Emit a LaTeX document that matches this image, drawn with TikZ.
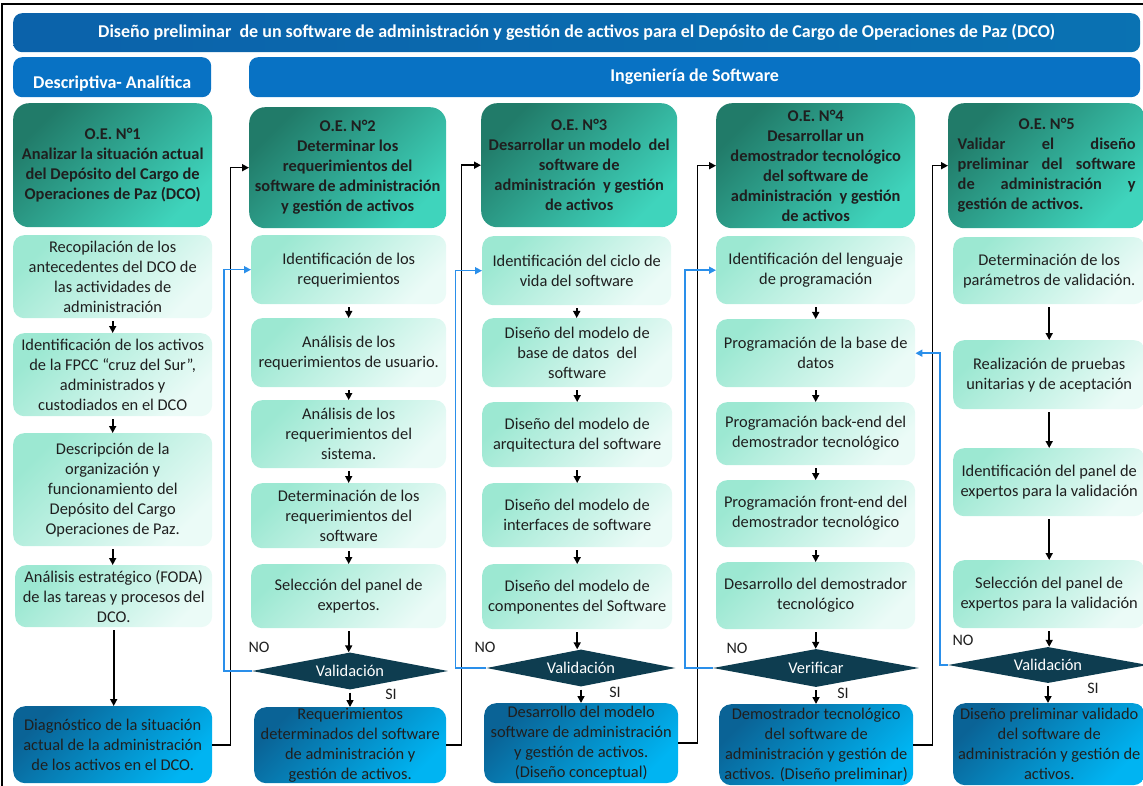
\documentclass[tikz,border=0pt]{standalone}
\usepackage{fontspec}
\setmainfont{Carlito}
\usetikzlibrary{shapes.geometric,arrows.meta}

\definecolor{txt}{HTML}{1F1F1F}
\definecolor{bandEdge}{HTML}{0B62AA}
\definecolor{bandMid}{HTML}{06305E}
\definecolor{band}{HTML}{0872C4}
\definecolor{oeA}{HTML}{217B69}
\definecolor{oeB}{HTML}{3FD4BC}
\definecolor{stA}{HTML}{9CE8D2}
\definecolor{stB}{HTML}{EBFBF7}
\definecolor{rsA}{HTML}{0A6396}
\definecolor{rsB}{HTML}{00B4F2}
\definecolor{dec}{HTML}{0E3D50}
\definecolor{loop}{HTML}{2A8FEA}

\newcommand\txtbody{\fontsize{16.4}{20}\selectfont}
\newcommand\txthead{\fontsize{16.4}{20}\selectfont\bfseries}

\begin{document}
\begin{tikzpicture}[x=1pt,y=-1pt,
  sz/.style 2 args={minimum width=#1pt, minimum height=#2pt},
  band/.style={anchor=north west, inner sep=0pt, rounded corners=9pt,
    text=white, font=\fontsize{18}{20}\selectfont\bfseries},
  oebox/.style={anchor=north west, inner sep=0pt, rounded corners=16pt,
    top color=oeA, bottom color=oeB, shading angle=45,
    align=center, text=txt, font=\txthead},
  stepbox/.style={anchor=north west, inner sep=0pt, rounded corners=11pt,
    top color=stA, bottom color=stB, shading angle=45,
    align=center, text=txt, font=\txtbody},
  resbox/.style={anchor=north west, inner sep=0pt, rounded corners=12pt,
    top color=rsA, bottom color=rsB, shading angle=45,
    align=center, text=black!88, font=\txtbody},
  decision/.style={diamond, aspect=5, fill=dec, inner sep=0pt,
    text=white, font=\txtbody},
  lbl/.style={inner sep=0pt, text=txt, font=\fontsize{16}{18}\selectfont},
  arr/.style={line width=1.6pt, -{Triangle[length=7pt,width=7pt]}, shorten <=3pt},
  link/.style={line width=1.6pt, -{Triangle[length=7pt,width=7pt]}},
  back/.style={draw=loop, line width=1.5pt, -{Triangle[length=7pt,width=7pt]}}
]
\useasboundingbox (0,0) rectangle (1143,786);

% frame
\draw[line width=2pt] (2,786) -- (2,4) -- (1143,4);

% title and section bands
\node[band, sz={1127}{39}, left color=bandEdge, middle color=bandMid, right color=bandEdge!90!cyan]
  (title) at (13,13)
  {Diseño preliminar\ \ de un software de administración y gestión de activos para el Depósito de Cargo de Operaciones de Paz (DCO)};
\node[band, fill=band, sz={198}{40}] (desc) at (13,57) {\raisebox{-11pt}[0pt][0pt]{Descriptiva- Analítica}};
\node[band, fill=band, sz={891}{40}] (eng) at (249,57) {Ingeniería de Software};

% ---------- column 1
\node[oebox, sz={199}{124}] (oe1) at (13,103)
  {O.E. N°1\\Analizar la situación actual\\del Depósito del Cargo de\\Operaciones de Paz (DCO)};
\node[stepbox, sz={199}{83}] (a1) at (13,235)
  {Recopilación de los\\antecedentes del DCO de\\las actividades de\\administración};
\node[stepbox, sz={199}{83}] (a2) at (13,333)
  {Identificación de los activos\\de la FPCC “cruz del Sur”,\\administrados y\\custodiados en el DCO};
\node[stepbox, sz={199}{113}] (a3) at (13,433)
  {Descripción de la\\organización y\\funcionamiento del\\Depósito del Cargo\\Operaciones de Paz.};
\node[stepbox, sz={197}{62}] (a4) at (15,565)
  {Análisis estratégico (FODA)\\de las tareas y procesos del\\DCO.};
\node[resbox, sz={199}{77}] (r1) at (13,706)
  {Diagnóstico de la situación\\actual de la administración\\de los activos en el DCO.};

% ---------- column 2
\node[oebox, sz={197}{121}] (oe2) at (249,107)
  {O.E. N°2\\Determinar los\\requerimientos del\\software de administración\\y gestión de activos};
\node[stepbox, sz={195}{69}] (b1) at (251,235) {Identificación de los\\requerimientos};
\node[stepbox, sz={195}{69}] (b2) at (251,318) {Análisis de los\\requerimientos de usuario.};
\node[stepbox, sz={195}{68}] (b3) at (251,400) {Análisis de los\\requerimientos del\\sistema.};
\node[stepbox, sz={195}{65}] (b4) at (251,483) {Determinación de los\\requerimientos del\\software};
\node[stepbox, sz={195}{64}] (b5) at (251,564) {Selección del panel de\\expertos.};
\node[decision, sz={196}{37}] (d2) at (350,671) {Validación};
\node[resbox, sz={192}{76}] (r2) at (254,707)
  {Requerimientos\\determinados del software\\de administración y\\gestión de activos.};

% ---------- column 3
\node[oebox, sz={196}{124}] (oe3) at (481,103)
  {O.E. N°3\\Desarrollar un modelo\ \ del\\software de\\administración\ \ y gestión\\de activos};
\node[stepbox, sz={189}{69}] (c1) at (482,236) {Identificación del ciclo de\\vida del software};
\node[stepbox, sz={190}{69}] (c2) at (482,318) {Diseño del modelo de\\base de datos\ \ del\\software};
\node[stepbox, sz={190}{65}] (c3) at (482,402) {Diseño del modelo de\\arquitectura del software};
\node[stepbox, sz={190}{64}] (c4) at (482,483) {Diseño del modelo de\\interfaces de software};
\node[stepbox, sz={190}{65}] (c5) at (482,564) {Diseño del modelo de\\componentes del Software};
\node[decision, sz={189}{37}] (d3) at (581,668) {Validación};
\node[resbox, sz={194}{80}] (r3) at (484,703)
  {Desarrollo del modelo\\software de administración\\y gestión de activos.\\(Diseño conceptual)};

% ---------- column 4
\node[oebox, sz={199}{125}] (oe4) at (716,103)
  {O.E. N°4\\Desarrollar un\\demostrador tecnológico\\del software de\\administración\ \ y gestión\\de activos};
\node[stepbox, sz={199}{68}] (e1) at (716,236) {Identificación del lenguaje\\de programación};
\node[stepbox, sz={199}{68}] (e2) at (716,319) {Programación de la base de\\datos};
\node[stepbox, sz={199}{63}] (e3) at (716,402) {Programación back-end del\\demostrador tecnológico};
\node[stepbox, sz={199}{67}] (e4) at (716,480) {Programación front-end del\\demostrador tecnológico};
\node[stepbox, sz={199}{67}] (e5) at (716,562) {Desarrollo del demostrador\\tecnológico};
\node[decision, sz={206}{38}] (d4) at (816,668) {Verificar};
\node[resbox, sz={194}{81}] (r4) at (719,704)
  {Demostrador tecnológico\\del software de\\administración y gestión de\\activos. (Diseño preliminar)};

% ---------- column 5
\node[oebox, sz={197}{125}] (oe5) at (948,103)
  {O.E. N°5\\
   \makebox[178pt][s]{Validar\hfill el\hfill diseño}\\
   \makebox[178pt][s]{preliminar\hfill del\hfill software}\\
   \makebox[178pt][s]{de\hfill administración\hfill y}\\
   \makebox[178pt][l]{gestión de activos.}};
\node[stepbox, sz={192}{67}] (f1) at (953,237) {Determinación de los\\parámetros de validación.};
\node[stepbox, sz={192}{69}] (f2) at (953,340) {Realización de pruebas\\unitarias y de aceptación};
\node[stepbox, sz={192}{68}] (f3) at (953,448) {Identificación del panel de\\expertos para la validación};
\node[stepbox, sz={192}{68}] (f4) at (953,560) {Selección del panel de\\expertos para la validación};
\node[decision, sz={200}{36}] (d5) at (1048,665) {Validación};
\node[resbox, sz={192}{82}] (r5) at (953,703)
  {Diseño preliminar validado\\del software de\\administración y gestión de\\activos.};

% ---------- flow inside each column
\foreach \u/\v in {a1/a2,a2/a3,a3/a4,a4/r1,
                   b1/b2,b2/b3,b3/b4,b4/b5,b5/d2,d2/r2,
                   c1/c2,c2/c3,c3/c4,c4/c5,c5/d3,d3/r3,
                   e1/e2,e2/e3,e3/e4,e4/e5,e5/d4,d4/r4,
                   f1/f2,f2/f3,f3/f4,f4/d5,d5/r5}
  \draw[arr] (\u.south) -- (\u.south |- \v.north);

% ---------- results feed the next objective
\draw[link] (r1.east) -- ++(18,0) |- (oe2.west);
\draw[link] (r2.east) -- ++(15,0) |- (oe3.west);
\draw[link] (r3.east) -- ++(19,0) |- (oe4.west);
\draw[link] (r4.east) -- ++(19,0) |- (oe5.west);

% ---------- rejected validations loop back
\draw[back] (d2.west) -- ++(-28,0) |- (b1.west);
\draw[back] (d3.west) -- ++(-31,0) |- (c1.west);
\draw[back] (d4.west) -- ++(-28,0) |- (e1.west);
\draw[back] (d5.west) -- ++(-8,0) |- (e2.east);

% ---------- decision labels
\node[lbl] (no2) at (259,647) {NO};
\node[lbl] (si2) at (391,694) {SI};
\node[lbl] (no3) at (485,647) {NO};
\node[lbl] (si3) at (615,692) {SI};
\node[lbl] (no4) at (737,648) {NO};
\node[lbl] (si4) at (843,693) {SI};
\node[lbl] (no5) at (963,640) {NO};
\node[lbl] (si5) at (1093,688) {SI};
\end{tikzpicture}
\end{document}
